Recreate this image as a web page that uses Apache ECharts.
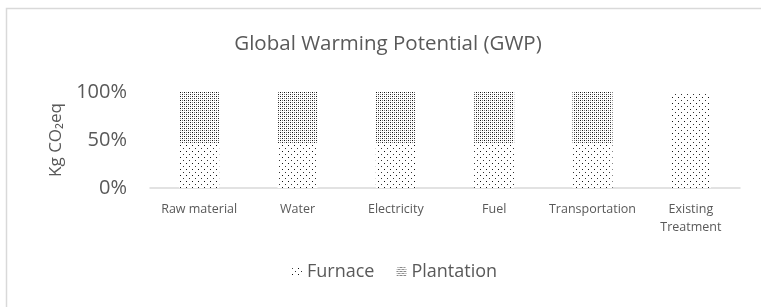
<!DOCTYPE html>
<html>
<head>
<meta charset="utf-8">
<script src="https://cdn.jsdelivr.net/npm/echarts@6/dist/echarts.min.js"></script>
<style>
html,body{margin:0;padding:0;background:#fff;}
#chart{width:761px;height:307px;}
</style>
</head>
<body>
<div id="chart"></div>
<script>
const categories = ['Raw material', 'Water', 'Electricity', 'Fuel', 'Transportation', 'Existing\nTreatment'];
const furnace = [47, 47, 47, 47, 47, 100];
const plantation = [53, 53, 53, 53, 53, 0];
const yTicks = [0, 50, 100];

function makePattern(size, dots) {
  const c = document.createElement('canvas');
  c.width = size; c.height = size;
  const ctx = c.getContext('2d');
  ctx.fillStyle = '#ffffff';
  ctx.fillRect(0, 0, size, size);
  dots.forEach(d => {
    ctx.fillStyle = d[2];
    ctx.fillRect(d[0], d[1], d[3] || 1, d[3] || 1);
  });
  return c;
}
const furnacePat = makePattern(6, [[0, 1, '#111'], [3, 4, '#333']]);
const plantPat = makePattern(4, [[0, 0, '#111'], [2, 2, '#222'], [2, 0, '#777'], [0, 2, '#888']]);

const FONT = 'Open Sans';
const chart = echarts.init(document.getElementById('chart'), null, {renderer: 'canvas'});
chart.setOption({
  animation: false,
  backgroundColor: '#fff',
  textStyle: {fontFamily: FONT},
  title: {
    text: 'Global Warming Potential (GWP)',
    left: 383, top: 29, textAlign: 'center',
    textStyle: {fontFamily: FONT, fontSize: 20.5, fontWeight: 'normal', color: '#595959'}
  },
  graphic: [{
    type: 'rect', silent: true,
    shape: {x: 6.5, y: 8.5, width: 800, height: 400},
    style: {fill: 'none', stroke: '#d9d9d9', lineWidth: 1.5}
  }],
  legend: {
    left: 287, top: 258,
    itemWidth: 10, itemHeight: 10, itemGap: 22,
    textStyle: {fontFamily: FONT, fontSize: 18, color: '#595959'},
    data: ['Furnace', 'Plantation']
  },
  grid: {left: 150, right: 21, top: 92, bottom: 119},
  xAxis: {
    type: 'category', data: categories,
    axisLine: {lineStyle: {color: '#d9d9d9', width: 1.5}},
    axisTick: {show: false},
    axisLabel: {color: '#595959', fontSize: 12.5, fontFamily: FONT, margin: 12, interval: 0, lineHeight: 18}
  },
  yAxis: {
    type: 'value', min: yTicks[0], max: yTicks[yTicks.length - 1], interval: 50,
    name: 'Kg CO₂eq', nameLocation: 'middle', nameGap: 85,
    nameTextStyle: {color: '#595959', fontSize: 17, fontFamily: FONT},
    axisLine: {show: false}, axisTick: {show: false}, splitLine: {show: false},
    axisLabel: {color: '#595959', fontSize: 20, fontFamily: FONT, margin: 23, formatter: '{value}%'}
  },
  series: [
    {name: 'Furnace', type: 'bar', stack: 'a', data: furnace, barWidth: 40,
     itemStyle: {color: {image: furnacePat, repeat: 'repeat'}}},
    {name: 'Plantation', type: 'bar', stack: 'a', data: plantation, barWidth: 40,
     itemStyle: {color: {image: plantPat, repeat: 'repeat'}}}
  ]
});
</script>
</body>
</html>
